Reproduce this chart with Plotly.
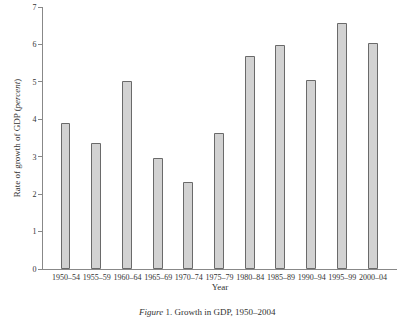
import plotly.graph_objects as go

periods = ["1950–54", "1955–59", "1960–64", "1965–69", "1970–74", "1975–79",
           "1980–84", "1985–89", "1990–94", "1995–99", "2000–04"]
growth = [3.88, 3.35, 5.0, 2.93, 2.30, 3.62, 5.66, 5.97, 5.03, 6.54, 6.01]
yticks = [0, 1, 2, 3, 4, 5, 6, 7]

FONT = "Liberation Serif, DejaVu Serif, serif"

fig = go.Figure(go.Bar(
    x=periods, y=growth, width=0.29,
    marker=dict(color="#d2d2d2", line=dict(color="#6a6a6a", width=1)),
))

fig.update_layout(
    width=400, height=321,
    margin=dict(l=43, r=3, t=5, b=52),
    paper_bgcolor="white", plot_bgcolor="white",
    showlegend=False,
    font=dict(family=FONT, size=8, color="#333"),
    bargap=0,
)
fig.update_xaxes(
    range=[-0.75, 10.78], showline=True, linecolor="#888", linewidth=1,
    ticks="", showgrid=False, tickangle=0, tickfont=dict(size=8, color="#333"),
    title=dict(text="Year", font=dict(size=9, color="#333"), standoff=3),
    fixedrange=True,
)
fig.update_yaxes(
    range=[0, 7], tickvals=yticks, showline=True, linecolor="#888", linewidth=1,
    ticks="outside", ticklen=4, tickcolor="#888", showgrid=False, zeroline=False,
    tickfont=dict(size=8, color="#333"),
    title=dict(text="Rate of growth of GDP (<i>percent</i>)", font=dict(size=9, color="#333"), standoff=10),
    fixedrange=True,
)
fig.add_annotation(
    text="<i>Figure</i> 1. Growth in GDP, 1950–2004",
    xref="paper", yref="paper", x=0.463, y=-0.165, showarrow=False,
    xanchor="center", yanchor="middle", font=dict(size=9, color="#333", family=FONT),
)
fig.write_html("out.html")
